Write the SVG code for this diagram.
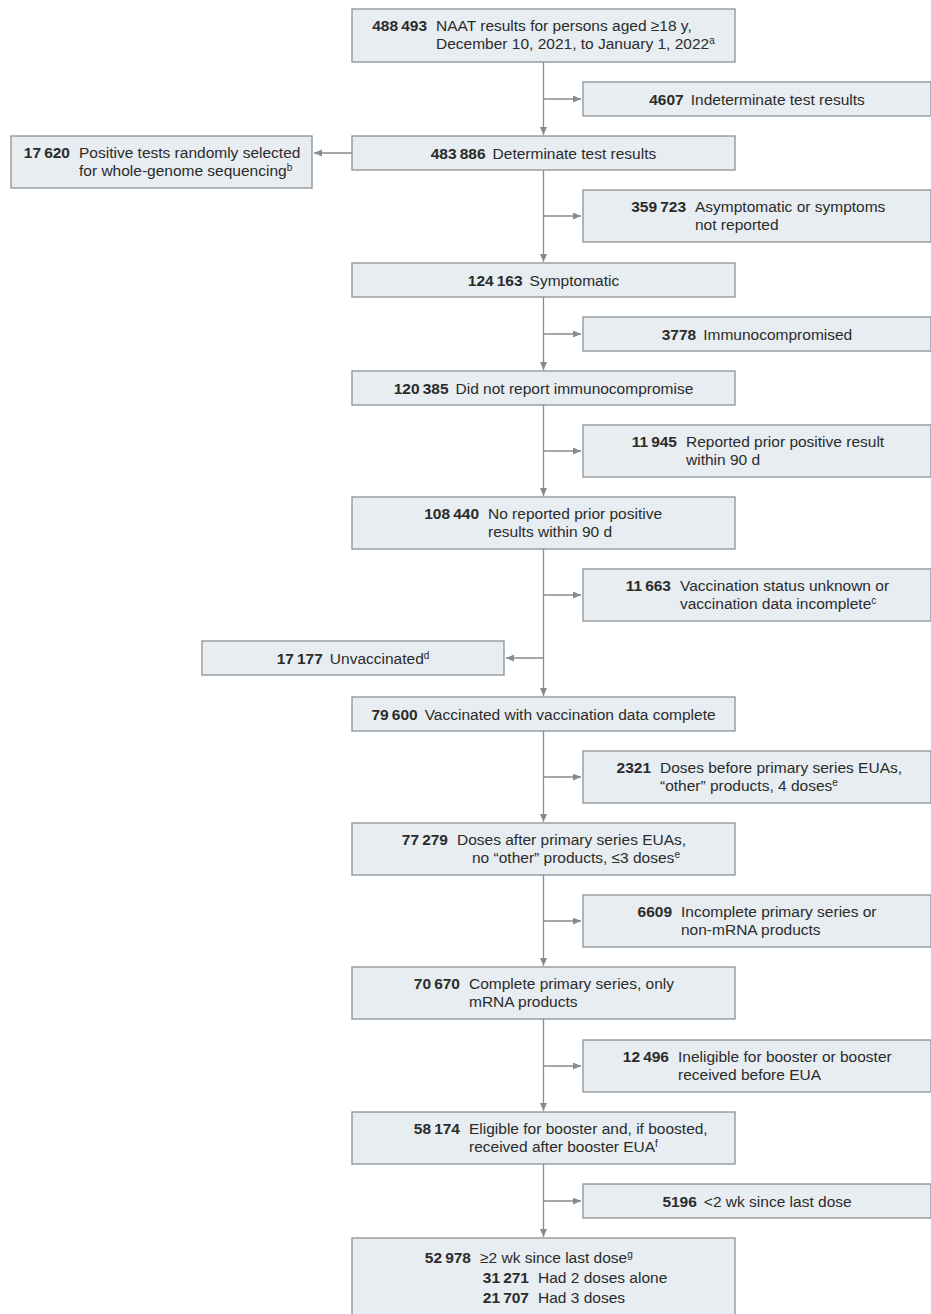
<svg xmlns="http://www.w3.org/2000/svg" width="931" height="1314" viewBox="0 0 931 1314">
<style>
.bx{fill:#e7edf1;stroke:#8c9196;stroke-width:1.3}
.t{font-family:"Liberation Sans",Arial,sans-serif;font-size:15.5px;fill:#2b2b2b}
.b{font-weight:bold}
.m{text-anchor:middle}
.e{text-anchor:end}
.ca{fill:none;stroke:#8a8a8a;stroke-width:1.3;marker-end:url(#ah)}
</style>
<defs>
<marker id="ah" markerUnits="userSpaceOnUse" markerWidth="9" markerHeight="8" refX="8" refY="3.5" orient="auto">
<path d="M0,0 L8,3.5 L0,7 z" fill="#8a8a8a"/>
</marker>
</defs>
<rect width="931" height="1314" fill="#ffffff"/>
<g id="connectors">
<line class="ca" x1="543.5" y1="62" x2="543.5" y2="135"/>
<line class="ca" x1="543.5" y1="170" x2="543.5" y2="262"/>
<line class="ca" x1="543.5" y1="297" x2="543.5" y2="370"/>
<line class="ca" x1="543.5" y1="405" x2="543.5" y2="496"/>
<line class="ca" x1="543.5" y1="549" x2="543.5" y2="696"/>
<line class="ca" x1="543.5" y1="731" x2="543.5" y2="822"/>
<line class="ca" x1="543.5" y1="875" x2="543.5" y2="966"/>
<line class="ca" x1="543.5" y1="1019" x2="543.5" y2="1111"/>
<line class="ca" x1="543.5" y1="1164" x2="543.5" y2="1237"/>
<line class="ca" x1="543.5" y1="99" x2="581" y2="99"/>
<line class="ca" x1="543.5" y1="216" x2="581" y2="216"/>
<line class="ca" x1="543.5" y1="334" x2="581" y2="334"/>
<line class="ca" x1="543.5" y1="451" x2="581" y2="451"/>
<line class="ca" x1="543.5" y1="595" x2="581" y2="595"/>
<line class="ca" x1="543.5" y1="777" x2="581" y2="777"/>
<line class="ca" x1="543.5" y1="921" x2="581" y2="921"/>
<line class="ca" x1="543.5" y1="1066" x2="581" y2="1066"/>
<line class="ca" x1="543.5" y1="1201" x2="581" y2="1201"/>
<line class="ca" x1="352" y1="153" x2="314" y2="153"/>
<line class="ca" x1="543.5" y1="658" x2="506" y2="658"/>
</g>
<g id="n1">
<rect class="bx" x="352" y="9" width="383" height="53"/>
<text class="t b e" x="427" y="31">488&#8201;493</text>
<text class="t" x="436" y="31">NAAT results for persons aged ≥18 y,</text>
<text class="t" x="436" y="49">December 10, 2021, to January 1, 2022<tspan dy="-5" font-size="10">a</tspan></text>
</g>
<g id="n2">
<rect class="bx" x="583" y="82" width="348" height="34"/>
<text class="t m" x="757" y="104.5"><tspan class="b">4607</tspan><tspan dx="7">Indeterminate test results</tspan></text>
</g>
<g id="n3">
<rect class="bx" x="352" y="136" width="383" height="34"/>
<text class="t m" x="543.5" y="158.5"><tspan class="b">483&#8201;886</tspan><tspan dx="7">Determinate test results</tspan></text>
</g>
<g id="n4">
<rect class="bx" x="11" y="136" width="301" height="52"/>
<text class="t b e" x="70" y="158">17&#8201;620</text>
<text class="t" x="79" y="158">Positive tests randomly selected</text>
<text class="t" x="79" y="176">for whole-genome sequencing<tspan dy="-5" font-size="10">b</tspan></text>
</g>
<g id="n5">
<rect class="bx" x="583" y="190" width="348" height="52"/>
<text class="t b e" x="686" y="212">359&#8201;723</text>
<text class="t" x="695" y="212">Asymptomatic or symptoms</text>
<text class="t" x="695" y="230">not reported</text>
</g>
<g id="n6">
<rect class="bx" x="352" y="263" width="383" height="34"/>
<text class="t m" x="543.5" y="285.5"><tspan class="b">124&#8201;163</tspan><tspan dx="7">Symptomatic</tspan></text>
</g>
<g id="n7">
<rect class="bx" x="583" y="317" width="348" height="34"/>
<text class="t m" x="757" y="339.5"><tspan class="b">3778</tspan><tspan dx="7">Immunocompromised</tspan></text>
</g>
<g id="n8">
<rect class="bx" x="352" y="371" width="383" height="34"/>
<text class="t m" x="543.5" y="393.5"><tspan class="b">120&#8201;385</tspan><tspan dx="7">Did not report immunocompromise</tspan></text>
</g>
<g id="n9">
<rect class="bx" x="583" y="425" width="348" height="52"/>
<text class="t b e" x="677" y="447">11&#8201;945</text>
<text class="t" x="686" y="447">Reported prior positive result</text>
<text class="t" x="686" y="465">within 90 d</text>
</g>
<g id="n10">
<rect class="bx" x="352" y="497" width="383" height="52"/>
<text class="t b e" x="479" y="519">108&#8201;440</text>
<text class="t" x="488" y="519">No reported prior positive</text>
<text class="t" x="488" y="537">results within 90 d</text>
</g>
<g id="n11">
<rect class="bx" x="583" y="569" width="348" height="52"/>
<text class="t b e" x="671" y="591">11&#8201;663</text>
<text class="t" x="680" y="591">Vaccination status unknown or</text>
<text class="t" x="680" y="609">vaccination data incomplete<tspan dy="-5" font-size="10">c</tspan></text>
</g>
<g id="n12">
<rect class="bx" x="202" y="641" width="302" height="34"/>
<text class="t m" x="353" y="663.5"><tspan class="b">17&#8201;177</tspan><tspan dx="7">Unvaccinated</tspan><tspan dy="-5" font-size="10">d</tspan></text>
</g>
<g id="n13">
<rect class="bx" x="352" y="697" width="383" height="34"/>
<text class="t m" x="543.5" y="719.5"><tspan class="b">79&#8201;600</tspan><tspan dx="7">Vaccinated with vaccination data complete</tspan></text>
</g>
<g id="n14">
<rect class="bx" x="583" y="751" width="348" height="52"/>
<text class="t b e" x="651" y="773">2321</text>
<text class="t" x="660" y="773">Doses before primary series EUAs,</text>
<text class="t" x="660" y="791">“other” products, 4 doses<tspan dy="-5" font-size="10">e</tspan></text>
</g>
<g id="n15">
<rect class="bx" x="352" y="823" width="383" height="52"/>
<text class="t b e" x="448" y="845">77&#8201;279</text>
<text class="t" x="457" y="845">Doses after primary series EUAs,</text>
<text class="t" x="472" y="863">no “other” products, ≤3 doses<tspan dy="-5" font-size="10">e</tspan></text>
</g>
<g id="n16">
<rect class="bx" x="583" y="895" width="348" height="52"/>
<text class="t b e" x="672" y="917">6609</text>
<text class="t" x="681" y="917">Incomplete primary series or</text>
<text class="t" x="681" y="935">non-mRNA products</text>
</g>
<g id="n17">
<rect class="bx" x="352" y="967" width="383" height="52"/>
<text class="t b e" x="460" y="989">70&#8201;670</text>
<text class="t" x="469" y="989">Complete primary series, only</text>
<text class="t" x="469" y="1007">mRNA products</text>
</g>
<g id="n18">
<rect class="bx" x="583" y="1040" width="348" height="52"/>
<text class="t b e" x="669" y="1062">12&#8201;496</text>
<text class="t" x="678" y="1062">Ineligible for booster or booster</text>
<text class="t" x="678" y="1080">received before EUA</text>
</g>
<g id="n19">
<rect class="bx" x="352" y="1112" width="383" height="52"/>
<text class="t b e" x="460" y="1134">58&#8201;174</text>
<text class="t" x="469" y="1134">Eligible for booster and, if boosted,</text>
<text class="t" x="469" y="1152">received after booster EUA<tspan dy="-5" font-size="10">f</tspan></text>
</g>
<g id="n20">
<rect class="bx" x="583" y="1184" width="348" height="34"/>
<text class="t m" x="757" y="1206.5"><tspan class="b">5196</tspan><tspan dx="7">&lt;2 wk since last dose</tspan></text>
</g>
<g id="n21">
<rect class="bx" x="352" y="1238" width="383" height="90"/>
<text class="t b e" x="471" y="1263">52&#8201;978</text>
<text class="t" x="480" y="1263">≥2 wk since last dose<tspan dy="-5" font-size="10">g</tspan></text>
<text class="t b e" x="529" y="1283">31&#8201;271</text>
<text class="t" x="538" y="1283">Had 2 doses alone</text>
<text class="t b e" x="529" y="1303">21&#8201;707</text>
<text class="t" x="538" y="1303">Had 3 doses</text>
</g>
</svg>
